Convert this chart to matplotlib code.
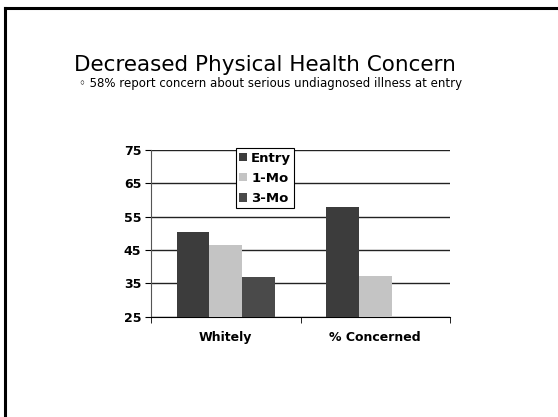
import numpy as np
import matplotlib.pyplot as plt
from matplotlib.lines import Line2D

categories = ['Whitely', '% Concerned']
series = ['Entry', '1-Mo', '3-Mo']
entry = [50.5, 58.0]
one_mo = [46.6, 37.2]
three_mo = [37.0, np.nan]
yticks = [25, 35, 45, 55, 65, 75]

colors = ['#3c3c3c', '#c4c4c4', '#4a4a4a']

fig = plt.figure(figsize=(5.58, 4.17), dpi=100)
fig.patch.set_facecolor('white')

# slide frame (only top and left edges visible)
fig.add_artist(Line2D([5 / 558, 5 / 558], [0, 1 - 8 / 417], color='black', lw=2.2))
fig.add_artist(Line2D([5 / 558, 1], [1 - 8 / 417, 1 - 8 / 417], color='black', lw=2.2))

fig.text(265 / 558, 1 - 65 / 417, 'Decreased Physical Health Concern',
         ha='center', va='center', fontsize=15.5, family='DejaVu Sans')
fig.text(79 / 558, 1 - 84 / 417, '\u25e6 58% report concern about serious undiagnosed illness at entry',
         ha='left', va='center', fontsize=8.45, family='DejaVu Sans')

ax = fig.add_axes([151 / 558, 1 - 316.7 / 417, 299 / 558, 166.7 / 417])
x = np.arange(len(categories))
w = 0.218
for i, (name, vals) in enumerate(zip(series, [entry, one_mo, three_mo])):
    ax.bar(x + (i - 1) * w, vals, width=w, color=colors[i], label=name, zorder=3)

ax.set_ylim(25, 75)
ax.set_xlim(-0.5, 1.5)
ax.set_yticks(yticks)
ax.set_yticklabels([str(t) for t in yticks], fontweight='bold', fontsize=9)
ax.yaxis.grid(True, color='#222222', lw=1, zorder=0)
ax.set_xticks(x)
ax.set_xticklabels(categories, fontweight='bold', fontsize=9)
ax.tick_params(axis='x', length=0, pad=10)
ax.set_xticks([-0.5, 0.5, 1.5], minor=True)
ax.tick_params(axis='x', which='minor', length=4, direction='out')
ax.tick_params(axis='y', length=4, direction='out', pad=3)
ax.spines['top'].set_visible(False)
ax.spines['right'].set_visible(False)
ax.spines['left'].set_color('#555555')

leg = ax.legend(loc='upper left', bbox_to_anchor=(0.284, 1.01),
                prop={'weight': 'bold', 'size': 9.5}, handlelength=0.6, handleheight=0.6,
                handletextpad=0.3, borderpad=0.25, labelspacing=0.55, fancybox=False,
                framealpha=1, borderaxespad=0)
leg.get_frame().set_edgecolor('black')
leg.get_frame().set_linewidth(0.8)

plt.savefig('out.png', dpi=100)
